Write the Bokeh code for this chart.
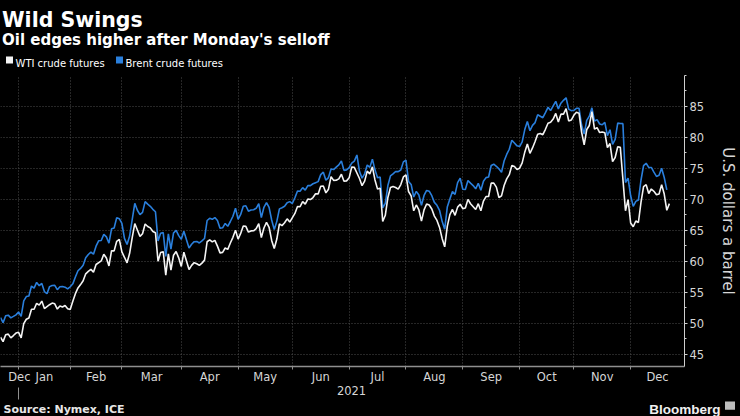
import numpy as np
import pandas as pd
from bokeh.plotting import figure
from bokeh.layouts import column
from bokeh.models import Range1d, FixedTicker, LinearAxis
from bokeh.core.properties import value
from bokeh.embed import file_html
from bokeh.resources import INLINE

# ---------------- data ----------------
ORIGIN = "2020-12-21"                      # first session shown
NO_SESSION = ["2020-12-25", "2021-01-01"]  # days without any session (not on the axis)
DATES = pd.bdate_range("2020-12-21", "2021-12-21")

# settlement prices, one row per week (Mon..Fri); None = no settlement that day
WTI = [
    47.74, 47.02, 48.12, 48.23, None,   # Dec 21 2020
    47.62, 48.00, 48.40, 48.52, None,   # Dec 28
    47.62, 49.93, 50.63, 50.83, 52.24,  # Jan 4 2021
    52.25, 53.21, 52.91, 53.57, 52.36,  # Jan 11
    None, 52.98, 53.24, 53.13, 52.27,   # Jan 18
    52.77, 52.61, 52.85, 52.34, 52.20,  # Jan 25
    53.55, 54.76, 55.69, 56.23, 56.85,  # Feb 1
    57.97, 58.36, 58.68, 58.24, 59.47,  # Feb 8
    None, 60.05, 61.14, 60.52, 59.24,   # Feb 15
    61.70, 61.67, 63.22, 63.53, 61.50,  # Feb 22
    60.64, 59.75, 61.28, 63.83, 66.09,  # Mar 1
    65.05, 64.01, 64.44, 66.02, 65.61,  # Mar 8
    65.39, 64.80, 64.60, 60.00, 61.42,  # Mar 15
    61.55, 57.76, 61.18, 58.56, 60.97,  # Mar 22
    61.56, 60.55, 59.16, 61.45, None,   # Mar 29
    58.65, 59.33, 59.77, 59.60, 59.32,  # Apr 5
    59.70, 60.18, 63.15, 63.46, 63.13,  # Apr 12
    63.38, 62.44, 61.35, 61.43, 62.14,  # Apr 19
    61.91, 62.94, 63.86, 65.01, 63.58,  # Apr 26
    64.49, 65.69, 65.63, 64.71, 64.90,  # May 3
    64.92, 65.28, 66.08, 63.82, 65.37,  # May 10
    66.27, 65.49, 63.36, 62.05, 63.58,  # May 17
    66.05, 65.76, 66.21, 66.85, 66.32,  # May 24
    None, 67.72, 68.83, 68.81, 69.62,   # May 31
    69.23, 70.05, 69.96, 70.29, 70.91,  # Jun 7
    70.88, 72.12, 72.15, 71.04, 71.64,  # Jun 14
    73.66, 73.06, 73.08, 73.30, 74.05,  # Jun 21
    72.91, 72.98, 73.47, 75.23, 75.16,  # Jun 28
    None, 73.37, 72.20, 72.94, 74.56,   # Jul 5
    74.10, 75.25, 73.13, 71.65, 71.81,  # Jul 12
    66.42, 67.42, 70.30, 71.91, 72.07,  # Jul 19
    71.91, 71.65, 72.39, 73.62, 73.95,  # Jul 26
    71.26, 70.56, 68.15, 69.09, 68.28,  # Aug 2
    66.48, 68.29, 69.25, 69.09, 68.44,  # Aug 9
    67.29, 66.59, 65.46, 63.69, 62.32,  # Aug 16
    65.64, 67.54, 68.36, 67.42, 68.74,  # Aug 23
    69.21, 68.50, 68.59, 69.99, 69.29,  # Aug 30
    None, 68.35, 69.30, 68.14, 69.72,   # Sep 6
    70.45, 70.46, 72.61, 72.61, 71.97,  # Sep 13
    70.29, 70.56, 72.23, 73.30, 73.98,  # Sep 20
    75.45, 75.29, 74.83, 75.03, 75.88,  # Sep 27
    77.62, 78.93, 77.43, 78.30, 79.35,  # Oct 4
    80.52, 80.64, 80.44, 81.31, 82.28,  # Oct 11
    82.44, 82.96, 83.87, 82.50, 83.76,  # Oct 18
    83.76, 84.65, 82.66, 82.81, 83.57,  # Oct 25
    84.05, 83.91, 80.86, 78.81, 81.27,  # Nov 1
    81.93, 84.15, 81.34, 81.59, 80.79,  # Nov 8
    80.88, 80.76, 78.36, 79.01, 76.10,  # Nov 15
    76.75, 78.50, 78.39, None, 68.15,   # Nov 22
    69.95, 66.18, 65.57, 66.50, 66.26,  # Nov 29
    69.49, 72.05, 72.36, 70.94, 71.67,  # Dec 6
    71.29, 70.73, 70.87, 72.38, 70.86,  # Dec 13
    68.23, 69.30,                       # Dec 20
]

BRENT = [
    50.91, 50.08, 51.20, 51.29, None,   # Dec 21 2020
    50.86, 51.09, 51.34, 51.80, None,   # Dec 28
    51.09, 53.60, 54.30, 54.38, 55.99,  # Jan 4 2021
    55.66, 56.58, 56.06, 56.42, 55.10,  # Jan 11
    54.75, 55.90, 56.08, 56.10, 55.41,  # Jan 18
    55.88, 55.91, 55.81, 55.53, 55.88,  # Jan 25
    56.35, 57.46, 58.46, 58.84, 59.34,  # Feb 1
    60.56, 61.09, 61.47, 61.14, 62.43,  # Feb 8
    63.30, 63.35, 64.34, 63.93, 62.91,  # Feb 15
    65.24, 65.37, 67.04, 66.88, 66.13,  # Feb 22
    63.69, 62.70, 64.07, 66.74, 69.36,  # Mar 1
    68.24, 67.52, 67.90, 69.63, 69.22,  # Mar 8
    68.88, 68.39, 68.00, 63.28, 64.53,  # Mar 15
    64.62, 60.79, 64.41, 61.95, 64.57,  # Mar 22
    64.98, 64.14, 63.54, 64.86, None,   # Mar 29
    62.15, 62.74, 63.16, 63.20, 62.95,  # Apr 5
    63.28, 63.67, 66.58, 66.94, 66.77,  # Apr 12
    67.05, 66.57, 65.32, 65.40, 66.11,  # Apr 19
    65.65, 66.42, 67.27, 68.56, 66.76,  # Apr 26
    67.56, 68.88, 68.96, 68.09, 68.28,  # May 3
    68.32, 68.55, 69.32, 67.05, 68.71,  # May 10
    69.46, 68.71, 66.66, 65.11, 66.44,  # May 17
    68.46, 68.65, 68.87, 69.46, 69.63,  # May 24
    69.32, 70.25, 71.35, 71.31, 71.89,  # May 31
    71.49, 72.22, 72.22, 72.52, 72.69,  # Jun 7
    72.86, 73.99, 74.39, 73.08, 73.51,  # Jun 14
    74.90, 74.81, 75.19, 75.56, 76.18,  # Jun 21
    74.68, 74.76, 75.13, 75.84, 76.17,  # Jun 28
    77.16, 74.53, 73.43, 74.12, 75.55,  # Jul 5
    75.16, 76.49, 74.76, 73.47, 73.59,  # Jul 12
    68.62, 69.35, 72.23, 73.79, 74.10,  # Jul 19
    74.50, 74.48, 74.74, 76.05, 76.33,  # Jul 26
    72.89, 72.41, 70.38, 71.29, 70.70,  # Aug 2
    69.04, 70.63, 71.44, 71.31, 70.59,  # Aug 9
    69.51, 69.03, 68.23, 66.45, 65.18,  # Aug 16
    68.75, 70.05, 71.25, 70.79, 72.70,  # Aug 23
    73.41, 71.63, 71.59, 73.03, 72.61,  # Aug 30
    72.22, 71.69, 72.60, 71.45, 72.92,  # Sep 6
    73.51, 73.60, 75.46, 75.67, 75.34,  # Sep 13
    74.92, 74.36, 76.19, 77.25, 78.09,  # Sep 20
    79.53, 79.09, 78.64, 78.52, 79.28,  # Sep 27
    81.26, 82.56, 81.08, 81.95, 82.39,  # Oct 4
    83.65, 83.42, 83.18, 84.00, 84.86,  # Oct 11
    84.33, 85.08, 85.82, 84.61, 85.53,  # Oct 18
    85.99, 86.40, 84.58, 84.32, 84.38,  # Oct 25
    84.71, 84.72, 81.99, 80.54, 82.74,  # Nov 1
    83.43, 84.78, 82.64, 82.87, 82.17,  # Nov 8
    82.05, 82.43, 80.28, 81.24, 78.89,  # Nov 15
    79.70, 82.31, 82.25, 82.22, 72.72,  # Nov 22
    73.44, 70.57, 68.87, 69.67, 69.88,  # Nov 29
    73.08, 75.44, 75.82, 75.15, 75.15,  # Dec 6
    74.39, 73.70, 73.88, 75.02, 73.52,  # Dec 13
    71.52, None,                        # Dec 20
]

SERIES_NAMES = ["WTI crude futures", "Brent crude futures"]
Y_TICKS = [45, 50, 55, 60, 65, 70, 75, 80, 85]
Y_MINOR = [47.5, 52.5, 57.5, 62.5, 67.5, 72.5, 77.5, 82.5, 87.5, 90]
Y_GRID = [45, 50, 55, 60, 65, 70, 75, 80, 85, 90]
MONTH_STARTS = ["2021-01-01", "2021-02-01", "2021-03-01", "2021-04-01", "2021-05-01", "2021-06-01",
                "2021-07-01", "2021-08-01", "2021-09-01", "2021-10-01", "2021-11-01", "2021-12-01"]
MONTH_LABELS = ["Dec", "Jan", "Feb", "Mar", "Apr", "May", "Jun", "Jul", "Aug", "Sep", "Oct", "Nov", "Dec"]
YEAR_LABEL = "2021"
TITLE = "Wild Swings"
SUBTITLE = "Oil edges higher after Monday's selloff"
Y_LABEL = "U.S. dollars a barrel"
SOURCE = "Source: Nymex, ICE"
BRAND = "Bloomberg"

# ---------------- styling ----------------
BG = "#000000"
WTI_COLOR = "#f4f4f4"
BRENT_COLOR = "#2a7fdc"
GRID_COLOR = "#4d4d4d"
AXIS_COLOR = "#8f8f8f"
LABEL_COLOR = "#d6d6d6"
FONT = "DejaVu Sans"
W = 740

assert len(WTI) == len(DATES) == len(BRENT)

day = DATES.values.astype("datetime64[D]")
xpos = np.busday_count(np.datetime64(ORIGIN), day, holidays=NO_SESSION)


def points(vals):
    keep = [i for i, v in enumerate(vals) if v is not None]
    return [float(xpos[i]) for i in keep], [float(vals[i]) for i in keep]


# month boundary = last session of the previous month
bounds = np.busday_count(np.datetime64(ORIGIN), np.array(MONTH_STARTS, dtype="datetime64[D]"),
                         holidays=NO_SESSION) - 1
bounds = [float(b) for b in bounds]

X_START, X_END = 0.0, 264.85
edges = bounds + [X_END]
label_pos = [max((X_START + edges[0]) / 2.0, X_START + 7.3)]
label_pos += [(edges[i] + edges[i + 1]) / 2.0 for i in range(len(edges) - 1)]
year_pos = (edges[0] + X_END) / 2.0


def blank(height):
    f = figure(width=W, height=height, x_range=Range1d(0, W), y_range=Range1d(height, 0),
               x_axis_location=None, y_axis_location=None, output_backend="svg",
               toolbar_location=None, background_fill_color=BG, border_fill_color=BG,
               outline_line_color=None, min_border=0, title=None)
    f.frame_align = False
    f.grid.visible = False
    return f


def txt(f, x, y, s, size, color="#ffffff", bold=False, align="left", font=FONT):
    f.text(x=[x], y=[y], text=[s], text_font=value(font), text_font_size=value(size),
           text_font_style="bold" if bold else "normal", text_color=color,
           text_align=align, text_baseline="alphabetic")


# ---------------- header ----------------
head = blank(75)
txt(head, 1.5, 19.8, TITLE, "20.5px", bold=True)
txt(head, 1.5, 39.8, SUBTITLE, "15px", bold=True)
head.scatter(x=[9, 119], y=[59.5, 59.5], marker="square", size=7,
             fill_color=[WTI_COLOR, BRENT_COLOR], line_color=None)
txt(head, 15, 62.8, SERIES_NAMES[0], "10px")
txt(head, 125, 62.8, SERIES_NAMES[1], "10px")

# ---------------- main chart ----------------
p = figure(width=W, height=326, x_range=Range1d(X_START, X_END), y_range=Range1d(43, 90),
           y_axis_location="right", output_backend="svg", toolbar_location=None,
           background_fill_color=BG, border_fill_color=BG, outline_line_color=None, title=None,
           min_border_left=0, min_border_right=49, min_border_top=0, min_border_bottom=35)
p.frame_align = False

p.xgrid.ticker = FixedTicker(ticks=bounds)
p.ygrid.ticker = FixedTicker(ticks=Y_GRID)
for g in (p.xgrid, p.ygrid):
    g.grid_line_color = GRID_COLOR
    g.grid_line_dash = "1 2"
    g.grid_line_width = 1

bx, by = points(BRENT)
wx, wy = points(WTI)
p.line(bx, by, line_color=BRENT_COLOR, line_width=1.6)
p.line(wx, wy, line_color=WTI_COLOR, line_width=1.6)

xa = p.xaxis[0]
xa.ticker = FixedTicker(ticks=label_pos, minor_ticks=bounds)
xa.major_label_overrides = {pos: lab for pos, lab in zip(label_pos, MONTH_LABELS)}
xa.major_tick_in = 0
xa.major_tick_out = 0
xa.minor_tick_in = 0
xa.minor_tick_out = 3
xa.minor_tick_line_color = AXIS_COLOR
xa.axis_line_color = AXIS_COLOR
xa.axis_line_width = 1.5
xa.major_label_text_color = LABEL_COLOR
xa.major_label_text_font = FONT
xa.major_label_text_font_size = "11.5px"
xa.major_label_standoff = 0

ya = LinearAxis(ticker=FixedTicker(ticks=[year_pos], minor_ticks=[edges[0]]),
                major_label_overrides={year_pos: YEAR_LABEL})
ya.axis_line_color = None
ya.major_tick_in = 0
ya.major_tick_out = 0
ya.minor_tick_in = -1
ya.minor_tick_out = 13
ya.minor_tick_line_color = AXIS_COLOR
ya.major_label_text_color = LABEL_COLOR
ya.major_label_text_font = FONT
ya.major_label_text_font_size = "11.5px"
ya.major_label_standoff = -14
p.add_layout(ya, "below")

ra = p.yaxis[0]
ra.ticker = FixedTicker(ticks=Y_TICKS, minor_ticks=Y_MINOR)
ra.axis_line_color = "#cfcfcf"
ra.major_tick_line_color = "#cfcfcf"
ra.minor_tick_line_color = "#cfcfcf"
ra.major_tick_in = 0
ra.major_tick_out = 3
ra.minor_tick_in = 0
ra.minor_tick_out = 2
ra.major_label_text_color = LABEL_COLOR
ra.major_label_text_font = FONT
ra.major_label_text_font_size = "11.5px"
ra.major_label_standoff = 2
ra.axis_label = Y_LABEL
ra.axis_label_text_font = FONT
ra.axis_label_text_font_size = "15px"
ra.axis_label_text_font_style = "normal"
ra.axis_label_text_color = LABEL_COLOR
ra.axis_label_standoff = 12

# ---------------- footer ----------------
foot = blank(15)
txt(foot, 3, 7.6, SOURCE, "11px", color="#e6e6e6", bold=True)
txt(foot, 720, 7.6, BRAND, "13.5px", color="#f0f0f0", bold=True, align="right", font="Liberation Sans")
foot.scatter(x=[729.5], y=[3.2], marker="square", size=10, fill_color="#bdbdbd", line_color=None)

layout = column(head, p, foot, spacing=0)

TEMPLATE = """{% block postamble %}<style>html, body { background: #000000; }</style>{% endblock %}"""
open("out.html", "w").write(file_html(layout, INLINE, title=TITLE, template=TEMPLATE))
